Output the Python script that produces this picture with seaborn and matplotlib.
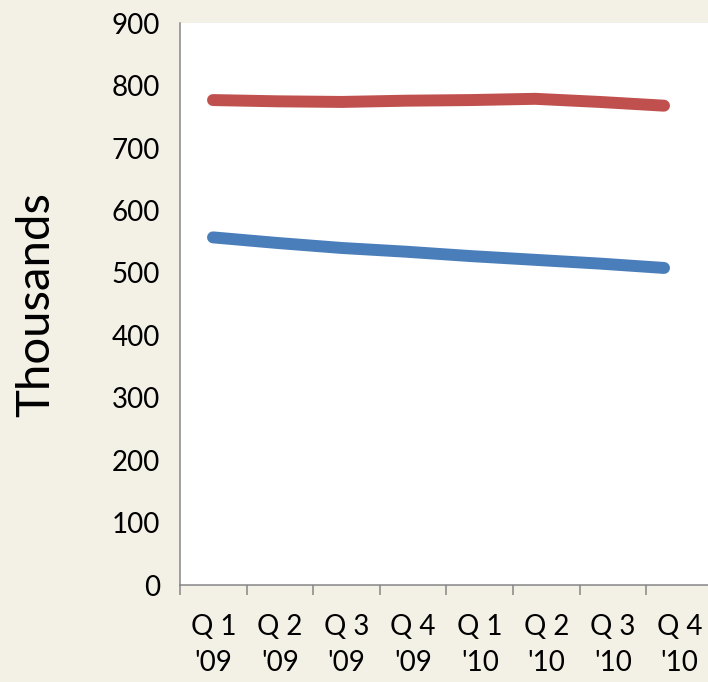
import matplotlib
matplotlib.use("Agg")
import matplotlib.pyplot as plt
import seaborn as sns
import pandas as pd

# Quarterly series, in thousands
quarters = ["Q 1\n'09", "Q 2\n'09", "Q 3\n'09", "Q 4\n'09",
            "Q 1\n'10", "Q 2\n'10", "Q 3\n'10", "Q 4\n'10"]
series_top = [777, 775, 774, 776, 777, 779, 774, 768]
series_bottom = [557, 548, 540, 534, 527, 521, 515, 508]
y_ticks = [0, 100, 200, 300, 400, 500, 600, 700, 800, 900]

bg = "#F3F0E6"
axis_grey = "#868686"
red = "#C0504D"
blue = "#4A7EBB"

sns.set_theme(style="white")
plt.rcParams["font.family"] = ["Lato", "DejaVu Sans"]
plt.rcParams["text.color"] = "black"
plt.rcParams["xtick.color"] = "black"
plt.rcParams["ytick.color"] = "black"

df = pd.DataFrame({
    "idx": list(range(len(quarters))) * 2,
    "value": series_top + series_bottom,
    "series": ["top"] * len(quarters) + ["bottom"] * len(quarters),
})

fig = plt.figure(figsize=(7.08, 6.82), dpi=100, facecolor=bg)
W, H = 708, 682
left, right, top, bottom = 180, 713, 23.3, 585
ax = fig.add_axes([left / W, 1 - bottom / H, (right - left) / W, (bottom - top) / H])
ax.set_facecolor("white")

# category axis: tick marks on boundaries, labels centred in each slot
n = len(quarters)
ax.set_xlim(0, n)
ax.set_xticks(range(n + 1))
ax.set_xticklabels([])
ax.set_xticks([i + 0.5 for i in range(n)], minor=True)
ax.set_xticklabels(quarters, minor=True, fontsize=20, linespacing=1.45,
                   color="black")
ax.tick_params(axis="x", which="minor", length=0, pad=21)
ax.tick_params(axis="x", which="major", length=7.2, width=1.1,
               color=axis_grey, direction="out")

ax.set_ylim(0, 900)
ax.set_yticks(y_ticks)
ax.set_yticklabels([str(v) for v in y_ticks], fontsize=20, color="black")
ax.tick_params(axis="y", length=7.2, width=1.1, color=axis_grey,
               direction="out", pad=7)
ax.set_ylabel("Thousands", fontsize=34, labelpad=39, color="black")

for side in ["top", "right"]:
    ax.spines[side].set_visible(False)
for side in ["left", "bottom"]:
    ax.spines[side].set_color(axis_grey)
    ax.spines[side].set_linewidth(1.1)

# series drawn on their own horizontal scale
lx = ax.twiny()
lx.set_xlim(-0.512, 7.76)
lx.set_ylim(0, 900)
lx.axis("off")
sns.lineplot(data=df, x="idx", y="value", hue="series",
             palette={"top": red, "bottom": blue}, linewidth=8.6,
             legend=False, ax=lx, solid_capstyle="round")

fig.savefig("out.png", dpi=100, facecolor=bg)
